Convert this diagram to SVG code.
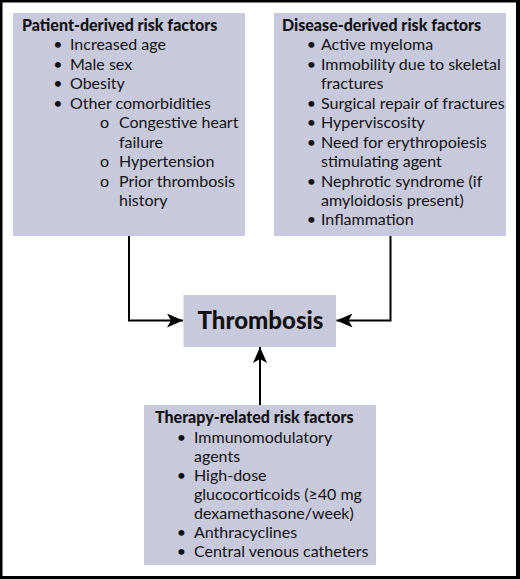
<svg xmlns="http://www.w3.org/2000/svg" width="520" height="579" viewBox="0 0 520 579">
<style>
.box{fill:#c8c9dd}
.t{font-family:Lato,"Open Sans","DejaVu Sans",sans-serif;font-size:16px;fill:#111}
.h{font-family:Lato,"Open Sans","DejaVu Sans",sans-serif;font-size:16px;font-weight:900;fill:#111}
.b{text-anchor:middle}
.c{fill:none;stroke:#000;stroke-width:2}
</style>
<defs>
<marker id="ah" markerUnits="userSpaceOnUse" markerWidth="17" markerHeight="14" refX="16" refY="7" orient="auto">
<path d="M0,0 L16,7 L0,14 L4,7 Z" fill="#000"/>
</marker>
</defs>
<rect x="0" y="0" width="520" height="579" fill="#000"/>
<rect x="2.5" y="2.5" width="513.5" height="573.5" fill="#fff"/>
<g id="patient">
<rect class="box" x="13" y="13" width="232" height="223"/>
<text class="h" x="22" y="30.5">Patient-derived risk factors</text>
<text class="t b" x="58" y="50">•</text><text class="t" x="70" y="50">Increased age</text>
<text class="t b" x="58" y="69.5">•</text><text class="t" x="70" y="69.5">Male sex</text>
<text class="t b" x="58" y="89">•</text><text class="t" x="70" y="89">Obesity</text>
<text class="t b" x="58" y="108.5">•</text><text class="t" x="70" y="108.5">Other comorbidities</text>
<text class="t" x="100" y="128">o</text><text class="t" x="119" y="128">Congestive heart</text>
<text class="t" x="119" y="147.5">failure</text>
<text class="t" x="100" y="167">o</text><text class="t" x="119" y="167">Hypertension</text>
<text class="t" x="100" y="186.5">o</text><text class="t" x="119" y="186.5">Prior thrombosis</text>
<text class="t" x="119" y="206">history</text>
</g>
<g id="disease">
<rect class="box" x="274" y="13" width="232" height="223"/>
<text class="h" x="282" y="30.5">Disease-derived risk factors</text>
<text class="t b" x="311.5" y="50">•</text><text class="t" x="321" y="50">Active myeloma</text>
<text class="t b" x="311.5" y="69.5">•</text><text class="t" x="321" y="69.5">Immobility due to skeletal</text>
<text class="t" x="321" y="89">fractures</text>
<text class="t b" x="311.5" y="108.5">•</text><text class="t" x="321" y="108.5">Surgical repair of fractures</text>
<text class="t b" x="311.5" y="128">•</text><text class="t" x="321" y="128">Hyperviscosity</text>
<text class="t b" x="311.5" y="147.5">•</text><text class="t" x="321" y="147.5">Need for erythropoiesis</text>
<text class="t" x="321" y="167">stimulating agent</text>
<text class="t b" x="311.5" y="186.5">•</text><text class="t" x="321" y="186.5">Nephrotic syndrome (if</text>
<text class="t" x="321" y="206">amyloidosis present)</text>
<text class="t b" x="311.5" y="225">•</text><text class="t" x="321" y="225">Inflammation</text>
</g>
<g id="thrombosis">
<rect class="box" x="183.5" y="295" width="152.5" height="52"/>
<text x="260.5" y="329" text-anchor="middle" style="font-family:Lato,'Open Sans','DejaVu Sans',sans-serif;font-size:24px;font-weight:900;fill:#111">Thrombosis</text>
</g>
<g id="therapy">
<rect class="box" x="144" y="405" width="232" height="160"/>
<text class="h" x="155" y="423">Therapy-related risk factors</text>
<text class="t b" x="181.5" y="443">•</text><text class="t" x="194" y="443">Immunomodulatory</text>
<text class="t" x="194" y="462">agents</text>
<text class="t b" x="181.5" y="481">•</text><text class="t" x="194" y="481">High-dose</text>
<text class="t" x="194" y="500">glucocorticoids (≥40 mg</text>
<text class="t" x="194" y="519">dexamethasone/week)</text>
<text class="t b" x="181.5" y="538">•</text><text class="t" x="194" y="538">Anthracyclines</text>
<text class="t b" x="181.5" y="557">•</text><text class="t" x="194" y="557">Central venous catheters</text>
</g>
<g id="connectors">
<path class="c" d="M129,236 V320.5 H183" marker-end="url(#ah)"/>
<path class="c" d="M390.5,236 V320.5 H336.5" marker-end="url(#ah)"/>
<path class="c" d="M260,405 V347" marker-end="url(#ah)"/>
</g>
</svg>
